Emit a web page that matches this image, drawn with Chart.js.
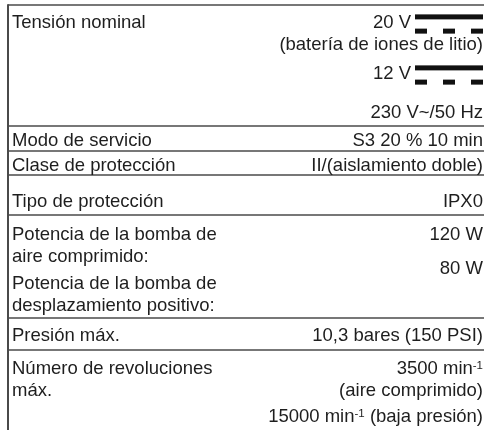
<!DOCTYPE html>
<html>
<head>
<meta charset="utf-8">
<script src="https://cdn.jsdelivr.net/npm/chart.js@4.4.1/dist/chart.umd.min.js"></script>
<style>
html,body{margin:0;padding:0;background:#fff}
#wrap{width:484px;height:430px;position:relative}
</style>
</head>
<body>
<div id="wrap"><canvas id="c"></canvas></div>
<script>
// ---- data: table content (left = parameter, right = value); each cell = paragraphs of lines
const leftCells = [
  [["Tensión nominal"]],
  [["Modo de servicio"]],
  [["Clase de protección"]],
  [["Tipo de protección"]],
  [["Potencia de la bomba de", "aire comprimido:"], ["Potencia de la bomba de", "desplazamiento positivo:"]],
  [["Presión máx."]],
  [["Número de revoluciones", "máx."]]
];
const rightCells = [
  [["20 V {DC}", "(batería de iones de litio)"], ["12 V {DC}"], ["230 V~/50 Hz"]],
  [["S3 20 % 10 min"]],
  [["II/(aislamiento doble)"]],
  [["IPX0"]],
  [["120 W"], ["80 W"]],
  [["10,3 bares (150 PSI)"]],
  [["3500 min^-1", "(aire comprimido)"], ["15000 min^-1 (baja presión)"]]
];

// ---- layout / style (not data)
const layout = {
  width: 484, height: 430,
  tableTop: 5, tableLeft: 8, tableRight: 484,
  textLeft: 12, textRight: 483,
  rowHeights: [121, 25, 24, 40, 103, 32, 95],
  firstLine: [16, 13, 13, 25, 18, 16, 17],
  lineH: 22,
  leftGaps:  [[0], [0], [0], [0], [0, 5], [0], [0]],
  rightGaps: [[0, 7, 17], [0], [0], [0], [0, 12], [0], [0, 4]]
};
const style = {
  font: '"Liberation Sans", Arial, sans-serif',
  size: 18.5, supSize: 11.5,
  text: '#1e1e1e', line: '#4a4a4a', lineW: 1.5, borderW: 2
};

const tablePlugin = {
  id: 'specTable',
  beforeDraw(chart) {
    const ctx = chart.ctx;
    ctx.save(); ctx.fillStyle = '#fff'; ctx.fillRect(0, 0, chart.width, chart.height); ctx.restore();
  },
  afterDraw(chart) {
    const ctx = chart.ctx, xs = chart.scales.x, ys = chart.scales.y;
    const X = v => xs.getPixelForValue(v), Y = v => ys.getPixelForValue(v);
    const tops = [layout.tableTop];
    layout.rowHeights.forEach(h => tops.push(tops[tops.length - 1] + h));
    ctx.save();
    // horizontal rules
    ctx.strokeStyle = style.line; ctx.lineWidth = style.lineW;
    tops.forEach(t => {
      if (t >= layout.height) return;
      ctx.beginPath(); ctx.moveTo(X(layout.tableLeft), Y(t)); ctx.lineTo(X(layout.tableRight), Y(t)); ctx.stroke();
    });
    // left border
    ctx.lineWidth = style.borderW;
    ctx.beginPath(); ctx.moveTo(X(layout.tableLeft), Y(layout.tableTop) - 0.75); ctx.lineTo(X(layout.tableLeft), Y(layout.height)); ctx.stroke();

    const mainFont = style.size + 'px ' + style.font;
    const supFont = style.supSize + 'px ' + style.font;
    const capH = style.size * 0.716;
    const dcW = 68, dcGap = 4;

    function parse(line) {
      const segs = [];
      const re = /\{DC\}|\^(\S+)/g;
      let last = 0, m;
      while ((m = re.exec(line))) {
        if (m.index > last) segs.push({ k: 't', s: line.slice(last, m.index) });
        if (m[0] === '{DC}') segs.push({ k: 'dc' });
        else segs.push({ k: 'sup', s: m[1] });
        last = re.lastIndex;
      }
      if (last < line.length) segs.push({ k: 't', s: line.slice(last) });
      segs.forEach((s, i) => { if (s.k === 't' && segs[i + 1] && segs[i + 1].k === 'dc') s.s = s.s.replace(/\s+$/, ''); });
      return segs;
    }
    function segW(s) {
      if (s.k === 'dc') return dcGap + dcW;
      ctx.font = s.k === 'sup' ? supFont : mainFont;
      return ctx.measureText(s.s).width;
    }
    function drawLine(line, xEdge, right, cy) {
      const segs = parse(line);
      const total = segs.reduce((a, s) => a + segW(s), 0);
      let x = right ? xEdge - total : xEdge;
      const base = cy + capH / 2;
      const capTop = base - capH;
      ctx.fillStyle = style.text;
      ctx.textBaseline = 'alphabetic'; ctx.textAlign = 'left';
      segs.forEach(s => {
        const w = segW(s);
        if (s.k === 't') { ctx.font = mainFont; ctx.fillText(s.s, x, base); }
        else if (s.k === 'sup') { ctx.font = supFont; ctx.fillText(s.s, x, capTop + style.supSize * 0.72); }
        else {
          const x0 = x + dcGap;
          ctx.fillStyle = '#111';
          ctx.fillRect(x0, capTop, dcW, 5);
          for (let d = 0; d < 3; d++) ctx.fillRect(x0 + d * 28, base + 1, 12, 5);
          ctx.fillStyle = style.text;
        }
        x += w;
      });
    }
    function drawCell(paras, gaps, rowIdx, right) {
      let cy = tops[rowIdx] + layout.firstLine[rowIdx];
      paras.forEach((p, pi) => {
        if (pi > 0) cy += layout.lineH + gaps[pi];
        p.forEach((ln, li) => {
          if (li > 0) cy += layout.lineH;
          const xEdge = right ? layout.textRight : layout.textLeft;
          drawLine(ln, X(xEdge), right, Y(cy));
        });
      });
    }
    leftCells.forEach((c, i) => drawCell(c, layout.leftGaps[i], i, false));
    rightCells.forEach((c, i) => drawCell(c, layout.rightGaps[i], i, true));
    ctx.restore();
  }
};

new Chart(document.getElementById('c'), {
  type: 'scatter',
  data: { datasets: [{ data: [], pointRadius: 0 }] },
  options: {
    responsive: true, maintainAspectRatio: false, animation: false,
    layout: { padding: 0 },
    plugins: { legend: { display: false }, tooltip: { enabled: false } },
    scales: {
      x: { type: 'linear', min: 0, max: layout.width, display: false },
      y: { type: 'linear', min: 0, max: layout.height, reverse: true, display: false }
    }
  },
  plugins: [tablePlugin]
});
</script>
</body>
</html>
